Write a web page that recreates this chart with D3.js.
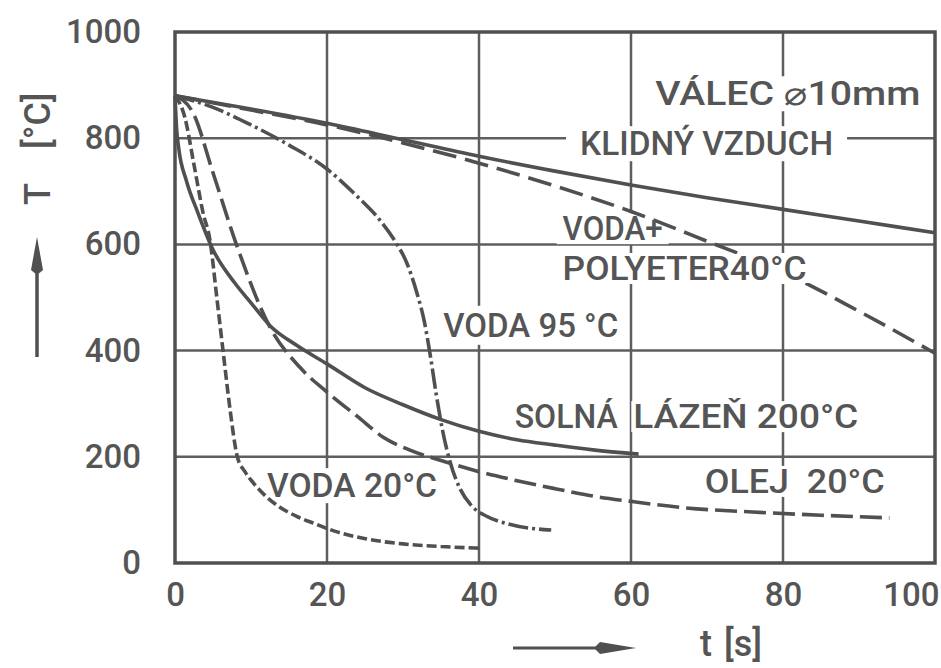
<!DOCTYPE html>
<html>
<head>
<meta charset="utf-8">
<script src="https://cdn.jsdelivr.net/npm/d3@7"></script>
<style>
  html, body { margin: 0; padding: 0; background: #ffffff; }
  svg { display: block; }
  text { font-family: Roboto, "DejaVu Sans", sans-serif; fill: #555; }
</style>
</head>
<body>
<svg id="chart" width="941" height="668"></svg>
<script>
// ---- data ----
const tTicks = [0, 20, 40, 60, 80, 100];
const TTicks = [0, 200, 400, 600, 800, 1000];
const gridT = [20, 40, 60, 80];
const gridTemp = [200, 400, 600, 800];

// KLIDNÝ VZDUCH (still air)
const airT = [0, 10, 20, 30, 40, 50, 60, 70, 80, 90, 100];
const airV = [880, 855, 828, 797, 766, 738, 712, 688, 666, 644, 622];

// VODA + POLYETER 40 °C
const polyT = [0, 10, 20, 30, 40, 50, 60, 70, 80, 90, 100];
const polyV = [880, 853, 825, 791, 753, 710, 662, 606, 548, 474, 395];

// VODA 95 °C
const w95T = [0, 5, 10, 15, 20, 24, 27, 29, 30.5, 31.8, 32.8, 33.6, 34.4, 35.2, 36.2, 37.5, 39, 41, 44, 49.5];
const w95V = [880, 858, 825, 787, 742, 690, 645, 605, 565, 510, 455, 390, 315, 250, 190, 140, 108, 88, 73, 62];

// SOLNÁ LÁZEŇ 200 °C
const saltT = [0, 0.2, 0.5, 1.5, 3, 5, 8, 10, 12.5, 16, 20, 25, 30, 35, 40, 45, 50, 55, 61];
const saltV = [880, 820, 780, 720, 660, 590, 525, 490, 447, 410, 375, 330, 298, 270, 248, 232, 222, 213, 205];

// OLEJ 20 °C
const oilT = [0, 2.4, 5, 8.2, 12.5, 16.4, 20, 24, 27.4, 31, 35, 40, 45, 50, 55, 60, 67, 76, 85, 94];
const oilV = [880, 847, 735, 595, 444, 369, 322, 276, 237, 212, 193, 172, 155, 140, 126, 116, 104, 96, 90, 85];

// VODA 20 °C
const w20T = [0, 1.3, 2.5, 3.7, 4.6, 5.5, 6.4, 7.2, 8.2, 9.2, 10.3, 12, 13.8, 16, 18.2, 21, 25.3, 30, 35, 40];
const w20V = [880, 839, 750, 659, 608, 500, 390, 294, 200, 172, 151, 125, 105, 88, 75, 60, 45, 36, 31, 28];

// annotation texts and their anchors in data units (t [s], T [°C])
const labelText = ["VÁLEC ⌀10mm", "KLIDNÝ VZDUCH", "VODA+", "POLYETER40°C", "VODA 95 °C",
                   "SOLNÁ", "LÁZEŇ 200°C", "OLEJ  20°C", "VODA 20°C"];
const labelT = [63.2, 53.3, 51.0, 51.0, 35.3, 44.7, 60.3, 69.7, 12.1];
const labelV = [862, 768, 608, 533, 426, 254, 254, 132, 124];

// ---- drawing ----
const svg = d3.select("#chart");
const W = 941, H = 668;
svg.append("rect").attr("width", W).attr("height", H).attr("fill", "#fff");

const x = d3.scaleLinear().domain([0, 100]).range([175, 935]);
const y = d3.scaleLinear().domain([0, 1000]).range([563, 32]);

const ink = "#505050";
const gGrid = svg.append("g");
const gGap = svg.append("g");
const gCurves = svg.append("g");
const gCover = svg.append("g");
const gText = svg.append("g");

// grid
gGrid.selectAll("line.v").data(gridT).join("line")
  .attr("x1", d => x(d)).attr("x2", d => x(d))
  .attr("y1", y(1000)).attr("y2", y(0))
  .attr("stroke", "#5e5e5e").attr("stroke-width", 2.5);
gGrid.selectAll("line.h").data(gridTemp).join("line")
  .attr("x1", x(0)).attr("x2", x(100))
  .attr("y1", d => y(d)).attr("y2", d => y(d))
  .attr("stroke", "#5e5e5e").attr("stroke-width", 2.5);

// curves
const line = d3.line().x(d => x(d[0])).y(d => y(d[1])).curve(d3.curveMonotoneX);
const zip = (a, b) => a.map((v, i) => [v, b[i]]);
const series = [
  { pts: zip(airT, airV), dash: null },
  { pts: zip(polyT, polyV), dash: "24,9" },
  { pts: zip(w95T, w95V), dash: "20,4,3,4" },
  { pts: zip(saltT, saltV), dash: null },
  { pts: zip(oilT, oilV), dash: "22,7" },
  { pts: zip(w20T, w20V), dash: "10,4" }
];
gCurves.selectAll("path").data(series).join("path")
  .attr("d", d => line(d.pts))
  .attr("fill", "none")
  .attr("stroke", ink)
  .attr("stroke-width", 3.6)
  .attr("stroke-linecap", "butt")
  .attr("stroke-dasharray", d => d.dash);

// frame
svg.append("rect")
  .attr("x", x(0)).attr("y", y(1000))
  .attr("width", x(100) - x(0)).attr("height", y(0) - y(1000))
  .attr("fill", "none").attr("stroke", ink).attr("stroke-width", 3.5);

// annotation labels
const lens = [265, 253, 100, 244, 175, 103, 225, 180, 170];
const pads = [[4, 2], [14, 2], [6, 0], [6, 0], [4, 4], [2, 0], [2, 0], [4, 0], [4, 2]];
labelText.forEach((s, i) => {
  const t = gText.append("text")
    .attr("x", x(labelT[i])).attr("y", y(labelV[i]))
    .attr("font-size", 33).attr("font-weight", 500)
    .style("white-space", "pre")
    .attr("textLength", lens[i]).attr("lengthAdjust", "spacingAndGlyphs")
    .text(s);
  const b = t.node().getBBox();
  const [px, py] = pads[i];
  gGap.append("rect")
    .attr("x", b.x - px).attr("y", b.y + 4 - py)
    .attr("width", b.width + 2 * px).attr("height", b.height - 8 + 2 * py)
    .attr("fill", "#fff");
  if (i === 3) {
    gCover.append("rect")
      .attr("x", b.x).attr("y", b.y + 5)
      .attr("width", b.width + 4).attr("height", b.height - 10)
      .attr("fill", "#fff");
  }
});

// axes (tick labels only)
const ax = svg.append("g").attr("transform", `translate(0,${y(0)})`)
  .call(d3.axisBottom(x).tickValues(tTicks).tickSize(0).tickPadding(20).tickFormat(d3.format("d")));
ax.select(".domain").remove();
ax.selectAll("text").attr("font-size", 33).attr("font-weight", 500)
  .style("font-family", "Roboto, 'DejaVu Sans', sans-serif").attr("fill", "#555");
ax.selectAll(".tick").filter(d => d === 100).select("text").attr("text-anchor", "end").attr("dx", 4);

const ay = svg.append("g").attr("transform", `translate(${x(0)},0)`)
  .call(d3.axisLeft(y).tickValues(TTicks).tickSize(0).tickPadding(34).tickFormat(d3.format("d")));
ay.select(".domain").remove();
ay.selectAll("text").attr("font-size", 33).attr("font-weight", 500)
  .style("font-family", "Roboto, 'DejaVu Sans', sans-serif").attr("fill", "#555");

// axis titles
const ty = svg.append("text")
  .attr("transform", "translate(50,205) rotate(-90)")
  .attr("font-size", 36).attr("font-weight", 500);
ty.append("tspan").text("T");
ty.append("tspan").attr("dx", 34).text("[°C]");

const tx = svg.append("text").attr("x", 700).attr("y", 656)
  .attr("font-size", 36).attr("font-weight", 500);
tx.append("tspan").text("t");
tx.append("tspan").attr("dx", 12).text("[s]");

// arrows
svg.append("line").attr("x1", 37).attr("x2", 37).attr("y1", 357).attr("y2", 262)
  .attr("stroke", ink).attr("stroke-width", 3.5);
svg.append("path").attr("d", "M37,237 L43,270 L37,275 L31,270 Z").attr("fill", ink);
svg.append("line").attr("x1", 513).attr("x2", 610).attr("y1", 648).attr("y2", 648)
  .attr("stroke", ink).attr("stroke-width", 3);
svg.append("path").attr("d", "M636,648 L600,642 L594,648 L600,654 Z").attr("fill", ink);
</script>
</body>
</html>
